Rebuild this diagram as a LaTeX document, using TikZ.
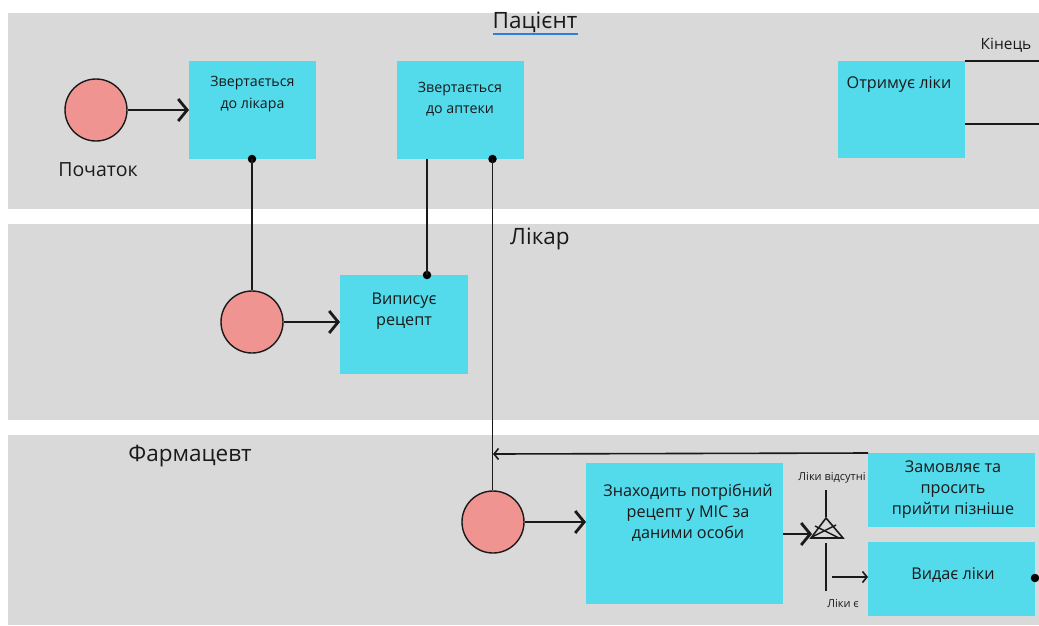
\documentclass[tikz,border=0pt]{standalone}
\usepackage{fontspec}
\setmainfont{Open Sans}
\usetikzlibrary{arrows.meta}
\definecolor{lanegray}{HTML}{D9D9D9}
\definecolor{taskcyan}{HTML}{53DAEB}
\definecolor{startpink}{HTML}{F09492}
\definecolor{ink}{HTML}{1A1A1A}
\definecolor{spellblue}{HTML}{2B7FE0}
\tikzset{
  lane/.style={fill=lanegray, draw=none},
  task/.style={fill=taskcyan, draw=none, anchor=north west, inner sep=0pt},
  tasktext/.style={text=ink, align=center, font=\fontsize{16.2}{21}\selectfont, inner sep=0pt},
  tasktextsm/.style={tasktext, font=\fontsize{14.2}{21.5}\selectfont},
  startev/.style={circle, fill=startpink, draw=ink, line width=1.4pt, minimum size=62pt, inner sep=0pt},
  lanetitle/.style={text=ink, font=\fontsize{22.5}{26}\selectfont, inner sep=0pt},
  small/.style={text=ink, font=\fontsize{11}{13}\selectfont, inner sep=0pt},
  flow/.style={draw=ink, line width=2.8pt, -{Straight Barb[length=9pt,width=22pt,line width=2.8pt]}},
  wire/.style={draw=ink, line width=1.9pt},
  thinflow/.style={draw=ink, line width=1.6pt, -{Straight Barb[length=4.5pt,width=11pt,line width=1.6pt]}},
  dot/.style={circle, fill=black, inner sep=0pt, minimum size=8.5pt},
}
\begin{document}
\begin{tikzpicture}[x=1pt, y=-1pt]
\useasboundingbox (0,0) rectangle (1039,625);
\fill[white] (0,0) rectangle (1039,625);

% swimlanes
\fill[lane] (8,13) rectangle (1039,209);
\fill[lane] (8,224) rectangle (1039,420);
\fill[lane] (8,435) rectangle (1039,625);

% lane titles
\node[lanetitle] (tpat) at (535,22) {Пацієнт};
\draw[draw=spellblue, line width=1.6pt] (493,34) -- (578,34);
\node[lanetitle] (tdoc) at (540,239) {Лікар};
\node[lanetitle] (tphar) at (190,456) {Фармацевт};

% ---- patient lane
\node[startev] (s1) at (96,110) {};
\node[lanetitle, font=\fontsize{19.5}{22}\selectfont] (s1l) at (98,170) {Початок};
\node[task, minimum width=127pt, minimum height=98pt] (b1) at (189,61) {};
\node[tasktextsm] (b1t) at (252.5,94) {Звертається\\до лікара};
\node[task, minimum width=127pt, minimum height=98pt] (b2) at (397,61) {};
\node[tasktextsm] (b2t) at (460,99) {Звертається\\до аптеки};
\node[task, minimum width=127pt, minimum height=97pt] (b3) at (838,61) {};
\node[tasktext] (b3t) at (899,84) {Отримує ліки};
\coordinate (e1) at (1039,61);
\coordinate (e2) at (1039,124);
\draw[wire] (b3.north east) -- (e1);
\draw[wire] (b3.east |- e2) -- (e2);
\node[text=ink, font=\fontsize{15.5}{17}\selectfont, inner sep=0pt] (endl) at (1006,45) {Кінець};

\draw[flow] (s1.east) -- (b1.west |- s1.east);

% ---- doctor lane
\node[startev] (s2) at (252,322) {};
\node[task, minimum width=128pt, minimum height=99pt] (b4) at (340,275) {};
\node[tasktext] (b4t) at (404,311) {Виписує\\рецепт};
\draw[flow] (s2.east) -- (b4.west |- s2.east);

\node[dot] (d1) at (252,159) {};
\draw[wire] (d1.center) -- (s2.north);
\node[dot] (d2) at (427,275) {};
\draw[wire] (b2.south -| d2) -- (d2.center);

% ---- pharmacist lane
\node[startev] (s3) at (493,522) {};
\node[dot] (d3) at (492.5,159) {};
\draw[wire] (d3.center) -- (d3 |- s3.north);

\node[task, minimum width=197pt, minimum height=141pt] (b5) at (586,463) {};
\node[tasktext] (b5t) at (688,513) {Знаходить потрібний\\рецепт у МІС за\\даними особи};
\draw[flow] (s3.east) -- (b5.west |- s3.east);

\node[task, minimum width=167pt, minimum height=74pt] (b6) at (868,453) {};
\node[tasktext] (b6t) at (953,490) {Замовляє та\\просить\\прийти пізніше};
\node[task, minimum width=167pt, minimum height=74pt] (b7) at (868,542) {};
\node[tasktext] (b7t) at (953,575) {Видає ліки};
\node[dot] (d4) at (1035,578) {};

% return path to the pharmacist
\coordinate (ret) at (493,454);
\draw[thinflow] (b6.north west) -- (ret);

% exclusive gateway
\coordinate (gwl) at (812,534);
\draw[ink, line width=1.6pt, line join=miter] (826,518) -- (843,538) -- (811,538) -- cycle;
\draw[ink, line width=1.4pt] (815,526) -- (839,538);
\draw[ink, line width=1.4pt] (812,537) -- (836,525);
\draw[flow] (b5.east |- gwl) -- (gwl);
\coordinate (gtop) at (826,490);
\coordinate (gbot) at (826,591);
\draw[wire] (gtop) -- (826,517);
\draw[wire] (826,543) -- (gbot);
\node[small] (nol) at (832,478) {Ліки відсутні};
\node[small] (yesl) at (843,604) {Ліки є};
\coordinate (yesf) at (832,577);
\draw[thinflow] (yesf) -- (b7.west |- yesf);
\end{tikzpicture}
\end{document}
